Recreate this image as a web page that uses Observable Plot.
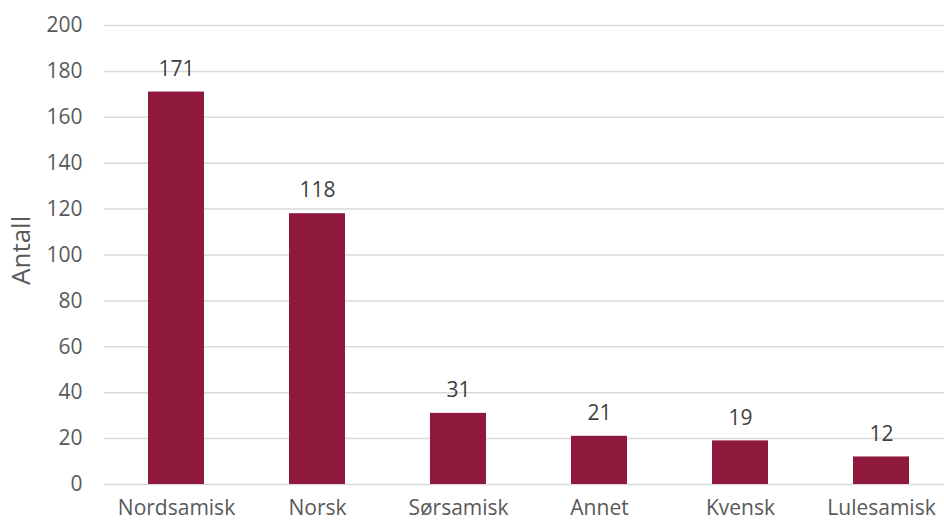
<!DOCTYPE html>
<html><head><meta charset="utf-8">
<script src="https://cdn.jsdelivr.net/npm/d3@7"></script>
<script src="https://cdn.jsdelivr.net/npm/@observablehq/plot@0.6"></script>
<style>
body{margin:0;background:#fff;}
#chart svg{font-family:"Open Sans",sans-serif;}
</style>
</head><body><div id="chart"></div>
<script>
const categories = ["Nordsamisk","Norsk","Sørsamisk","Annet","Kvensk","Lulesamisk"];
const values = [171,118,31,21,19,12];
const yTicks = [0,20,40,60,80,100,120,140,160,180,200];

const data = categories.map((c,i)=>({cat:c, val:values[i]}));

const chart = Plot.plot({
  width: 944,
  height: 521,
  marginLeft: 104,
  marginRight: 0,
  marginTop: 25,
  marginBottom: 37,
  style: {fontFamily: '"Open Sans", sans-serif', fontSize: "21px", color: "#595959", background: "#fff"},
  x: {domain: categories, range: [104, 954], paddingInner: 0.6, paddingOuter: 0.3, label: null},
  y: {domain: [0, 200], label: null},
  marks: [
    Plot.ruleY(yTicks, {stroke: "#d9d9d9", strokeWidth: 1.5}),
    Plot.barY(data, {x: "cat", y: "val", fill: "#8E193C"}),
    Plot.text(data, {x: "cat", y: "val", text: d => String(d.val), dy: -23, fontSize: 21, fill: "#404040"}),
    Plot.axisY(yTicks, {tickSize: 0, tickPadding: 22, fontSize: 21, fill: "#595959", label: null}),
    Plot.axisX({tickSize: 0, tickPadding: 16, fontSize: 21, fill: "#595959", label: null}),
    Plot.text(["Antall"], {frameAnchor: "left", dx: -83, dy: 30, rotate: -90, fontSize: 26, fill: "#595959"})
  ]
});
document.getElementById("chart").appendChild(chart);
</script>
</body></html>
